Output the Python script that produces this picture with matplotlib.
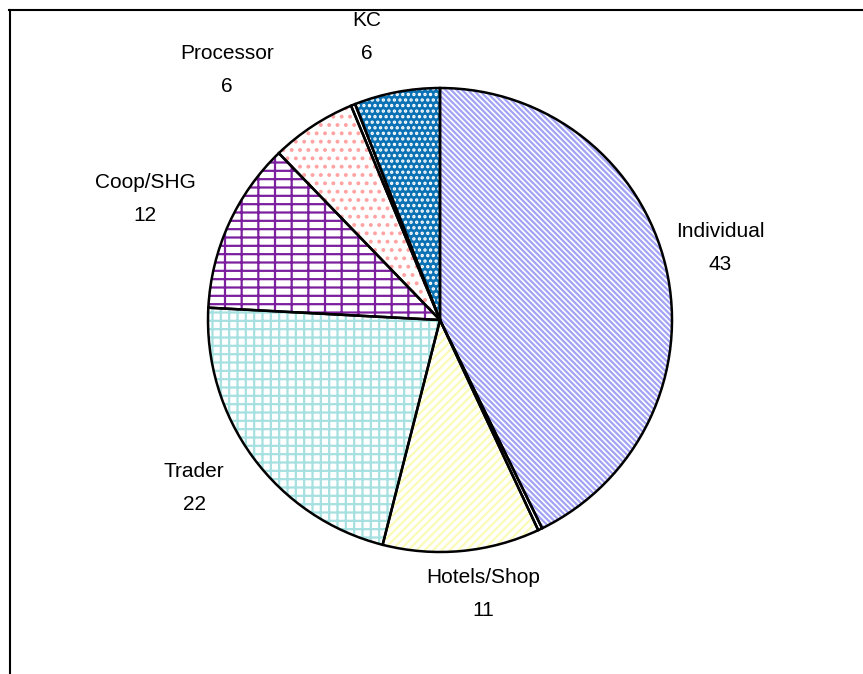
import matplotlib
matplotlib.use("Agg")
import matplotlib.pyplot as plt
from matplotlib.lines import Line2D

# ── Data ──────────────────────────────────────────────────────────────────────
categories = ["Individual", "", "Hotels/Shop", "Trader", "Coop/SHG", "Processor", "", "KC"]
values     = [43, 0.3, 11, 22, 12, 6, 0.3, 6]

# styling per slice (face colour, hatch colour, hatch)
faces   = ["white", "white", "white", "white", "white", "white", "white", "#0a72b4"]
hcolors = ["#a3a3f5", "#a3a3f5", "#fbfbb8", "#a6e0e0", "#7b1f9e", "#ffa3a3", "#0a72b4", "white"]
hatches = ["\\" * 6, "", "////", "++", "--|", "..", "", "..."]

# label centres in figure pixels (x, y from top)
label_px = [(720, 248), None, (483, 594), (194, 488), (145, 199), (227, 70), None, (367, 37)]

plt.rcParams["font.family"] = ["Liberation Sans", "DejaVu Sans"]
plt.rcParams["hatch.linewidth"] = 1.6

W, H = 863, 674
CX, CY, R = 440, 320, 232

fig = plt.figure(figsize=(W / 100, H / 100), dpi=100)
ax = fig.add_axes([0, 0, 1, 1])
ax.axis("off")

# hatched fills
wedges, _ = ax.pie(values, startangle=90, counterclock=False, radius=1,
                   colors=faces, wedgeprops=dict(linewidth=0))
for w, hc, ht in zip(wedges, hcolors, hatches):
    w.set_edgecolor(hc)
    w.set_hatch(ht)

# black outlines on top
ax.pie(values, startangle=90, counterclock=False, radius=1,
       wedgeprops=dict(fill=False, edgecolor="black", linewidth=1.8))
ax.set_xlim(-CX / R, (W - CX) / R)
ax.set_ylim(-(H - CY) / R, CY / R)
ax.set_aspect("auto")

for name, v, pos in zip(categories, values, label_px):
    if pos is None:
        continue
    x = (pos[0] - CX) / R
    y = (CY - pos[1]) / R
    ax.text(x, y, f"{name}\n{v:g}", ha="center", va="center",
            fontsize=15, linespacing=1.95, color="black")

# outer frame (top and left edges only visible)
fig.add_artist(Line2D([9 / W, 1], [1 - 10 / H, 1 - 10 / H], transform=fig.transFigure,
                      color="black", linewidth=1.5))
fig.add_artist(Line2D([10 / W, 10 / W], [0, 1 - 10 / H], transform=fig.transFigure,
                      color="black", linewidth=1.5))

fig.savefig("out.png", dpi=100)
